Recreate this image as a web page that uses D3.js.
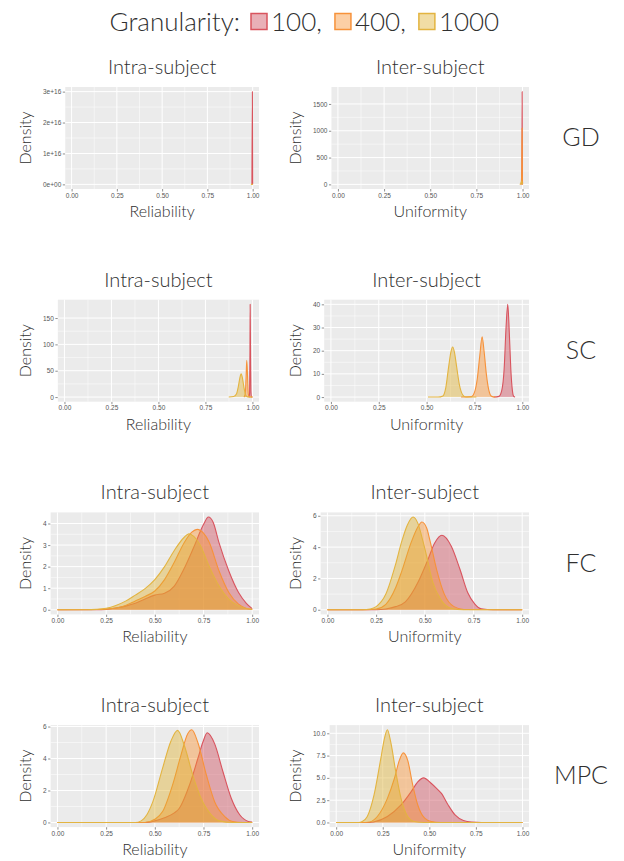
<!DOCTYPE html>
<html>
<head>
<meta charset="utf-8">
<script src="https://cdn.jsdelivr.net/npm/d3@7"></script>
<style>
  body { margin: 0; background: #fff; }
  svg { display: block; }
  .big { font-family: Lato, 'Open Sans', sans-serif; font-weight: 300; fill: #303030; }
  .tick text { font-family: 'Liberation Sans', Arial, sans-serif; font-size: 6.5px; fill: #555; }
  .tick line { stroke: #444; stroke-width: 0.6; }
</style>
</head>
<body>
<svg class="chart"></svg>
<script>
var granularities = ['100', '400', '1000'];
var modalities = ['GD', 'SC', 'FC', 'MPC'];
var measureTitles = ['Intra-subject', 'Inter-subject'];
var measureAxisLabels = ['Reliability', 'Uniformity'];
var xTicks = [0, 0.25, 0.5, 0.75, 1];
var xTickLabels = ['0.00', '0.25', '0.50', '0.75', '1.00'];

// y ticks, one pair of arrays per panel
var gdIntraTicks = [0, 1e16, 2e16, 3e16];
var gdIntraTickLabels = ['0e+00', '1e+16', '2e+16', '3e+16'];
var gdInterTicks = [0, 500, 1000, 1500];
var gdInterTickLabels = ['0', '500', '1000', '1500'];
var scIntraTicks = [0, 50, 100, 150];
var scIntraTickLabels = ['0', '50', '100', '150'];
var scInterTicks = [0, 10, 20, 30, 40];
var scInterTickLabels = ['0', '10', '20', '30', '40'];
var fcIntraTicks = [0, 1, 2, 3, 4];
var fcIntraTickLabels = ['0', '1', '2', '3', '4'];
var fcInterTicks = [0, 2, 4, 6];
var fcInterTickLabels = ['0', '2', '4', '6'];
var mpcIntraTicks = [0, 2, 4, 6];
var mpcIntraTickLabels = ['0', '2', '4', '6'];
var mpcInterTicks = [0, 2.5, 5, 7.5, 10];
var mpcInterTickLabels = ['0.0', '2.5', '5.0', '7.5', '10.0'];

// density curves [value, density]
var gdIntra100 = [[0.996, 0], [0.9985, 3.0e16], [1.0, 0]];
var gdIntra400 = [[0.994, 0], [0.998, 1200], [1.0, 0]];
var gdIntra1000 = [[0.99, 0], [0.996, 60], [1.0, 0]];

var gdInter100 = [[0.994, 0], [0.997, 400], [0.998, 1730], [0.999, 300], [1.0, 0]];
var gdInter400 = [[0.993, 0], [0.996, 300], [0.9975, 1050], [0.999, 200], [1.0, 0]];
var gdInter1000 = [[0.985, 0], [0.99, 10], [0.995, 60], [0.999, 20], [1.0, 0]];

var scIntra100 = [[0.982, 0], [0.985, 8], [0.987, 90], [0.988, 176], [0.990, 80], [0.992, 12], [0.995, 0], [1.0, 0]];
var scIntra400 = [[0.955, 0], [0.962, 6], [0.966, 35], [0.970, 70], [0.974, 40], [0.978, 6], [0.983, 0], [1.0, 0]];
var scIntra1000 = [[0.874, 0], [0.9, 1], [0.915, 6], [0.925, 20], [0.933, 36], [0.94, 44], [0.947, 36],
  [0.955, 18], [0.962, 6], [0.97, 1], [0.98, 0], [1.0, 0]];

var scInter100 = [[0.85, 0], [0.878, 0.3], [0.893, 3], [0.905, 12], [0.915, 30], [0.924, 40], [0.932, 28],
  [0.94, 12], [0.948, 3], [0.955, 0.3], [0.962, 0]];
var scInter400 = [[0.68, 0], [0.735, 0.2], [0.75, 2], [0.765, 8], [0.778, 18], [0.79, 26], [0.8, 20],
  [0.812, 10], [0.825, 3], [0.84, 0.3], [0.86, 0]];
var scInter1000 = [[0.507, 0], [0.56, 0], [0.585, 0.5], [0.6, 4], [0.615, 13], [0.627, 19.5], [0.636, 21.6],
  [0.645, 19.5], [0.657, 13], [0.672, 5], [0.688, 1], [0.705, 0], [0.76, 0]];

var fcIntra100 = [[0, 0], [0.2, 0], [0.25, 0.02], [0.3, 0.08], [0.35, 0.17], [0.4, 0.3], [0.45, 0.5],
  [0.5, 0.68], [0.55, 0.77], [0.6, 1.1], [0.65, 1.9], [0.7, 2.9], [0.75, 3.95], [0.775, 4.3], [0.8, 4.05],
  [0.83, 3.1], [0.88, 1.8], [0.93, 0.8], [0.97, 0.3], [1.0, 0.05]];
var fcIntra400 = [[0, 0], [0.2, 0.01], [0.25, 0.03], [0.3, 0.08], [0.35, 0.2], [0.4, 0.41], [0.45, 0.62],
  [0.5, 0.87], [0.55, 1.4], [0.6, 2.2], [0.65, 3.1], [0.69, 3.6], [0.718, 3.73], [0.75, 3.55], [0.778, 3.15],
  [0.83, 1.8], [0.88, 0.8], [0.93, 0.26], [0.97, 0.06], [1.0, 0.01]];
var fcIntra1000 = [[0, 0], [0.15, 0], [0.2, 0.02], [0.25, 0.07], [0.3, 0.2], [0.35, 0.4], [0.4, 0.68],
  [0.45, 0.98], [0.5, 1.4], [0.55, 2.0], [0.6, 2.75], [0.65, 3.35], [0.675, 3.52], [0.7, 3.4], [0.73, 3.05],
  [0.78, 2.0], [0.83, 1.1], [0.88, 0.49], [0.93, 0.18], [1.0, 0.02]];

var fcInter100 = [[0, 0], [0.25, 0], [0.3, 0.05], [0.35, 0.2], [0.4, 0.5], [0.465, 1.75], [0.516, 3.2],
  [0.55, 4.25], [0.588, 4.76], [0.636, 4.06], [0.68, 2.6], [0.72, 1.1], [0.756, 0.38], [0.79, 0.06],
  [0.85, 0], [1.0, 0]];
var fcInter400 = [[0, 0], [0.2, 0], [0.25, 0.05], [0.3, 0.35], [0.35, 1.4], [0.38, 2.4], [0.43, 4.3],
  [0.465, 5.3], [0.485, 5.6], [0.51, 5.2], [0.525, 4.5], [0.56, 2.6], [0.6, 1.0], [0.65, 0.2], [0.7, 0.02],
  [1.0, 0]];
var fcInter1000 = [[0, 0], [0.18, 0], [0.22, 0.05], [0.25, 0.2], [0.3, 1.0], [0.35, 2.9], [0.38, 4.3],
  [0.41, 5.4], [0.44, 5.92], [0.465, 5.5], [0.49, 4.4], [0.51, 3.4], [0.54, 1.8], [0.585, 0.6],
  [0.635, 0.1], [0.7, 0], [1.0, 0]];

var mpcIntra100 = [[0, 0], [0.45, 0], [0.5, 0.1], [0.55, 0.3], [0.6, 0.6], [0.626, 0.89], [0.678, 2.34],
  [0.721, 4.0], [0.747, 5.03], [0.769, 5.61], [0.807, 4.93], [0.85, 3.17], [0.893, 1.5], [0.936, 0.48],
  [0.98, 0.06], [1.0, 0.02]];
var mpcIntra400 = [[0, 0], [0.45, 0], [0.5, 0.2], [0.54, 0.68], [0.591, 2.34], [0.634, 4.2], [0.669, 5.55],
  [0.69, 5.8], [0.721, 5.0], [0.764, 3.0], [0.807, 1.3], [0.859, 0.37], [0.9, 0.06], [0.95, 0], [1.0, 0]];
var mpcIntra1000 = [[0, 0], [0.4, 0], [0.43, 0.1], [0.46, 0.5], [0.49, 1.3], [0.54, 3.4], [0.583, 5.1],
  [0.617, 5.76], [0.652, 4.8], [0.695, 2.96], [0.738, 1.5], [0.79, 0.48], [0.833, 0.1], [0.9, 0], [1.0, 0]];

var mpcInter100 = [[0, 0], [0.18, 0], [0.2, 0.05], [0.275, 0.67], [0.348, 1.96], [0.402, 3.44],
  [0.438, 4.55], [0.469, 5.0], [0.511, 4.37], [0.54, 3.8], [0.565, 3.26], [0.601, 1.96], [0.638, 0.85],
  [0.683, 0.22], [0.728, 0.04], [0.78, 0], [1.0, 0]];
var mpcInter400 = [[0, 0], [0.16, 0], [0.18, 0.05], [0.221, 0.67], [0.275, 2.7], [0.312, 4.9],
  [0.339, 6.96], [0.36, 7.8], [0.384, 6.96], [0.411, 4.2], [0.438, 1.96], [0.475, 0.48], [0.511, 0.1],
  [0.56, 0], [1.0, 0]];
var mpcInter1000 = [[0, 0], [0.12, 0], [0.14, 0.1], [0.167, 0.67], [0.203, 3.07], [0.239, 7.1],
  [0.261, 9.6], [0.275, 10.4], [0.293, 9.0], [0.32, 5.67], [0.348, 2.7], [0.384, 0.67], [0.42, 0.1],
  [0.47, 0], [1.0, 0]];

var strokeColors = {'100': '#d9545e', '400': '#f7923a', '1000': '#e3b440'};
var fillColors = {'100': '#cd4858', '400': '#f7902f', '1000': '#deb12f'};
var fillOpacity = 0.43;

var panels = [
  {row: 0, col: 0, curves: [gdIntra100, gdIntra400, gdIntra1000], ticks: gdIntraTicks, labels: gdIntraTickLabels},
  {row: 0, col: 1, curves: [gdInter100, gdInter400, gdInter1000], ticks: gdInterTicks, labels: gdInterTickLabels},
  {row: 1, col: 0, curves: [scIntra100, scIntra400, scIntra1000], ticks: scIntraTicks, labels: scIntraTickLabels},
  {row: 1, col: 1, curves: [scInter100, scInter400, scInter1000], ticks: scInterTicks, labels: scInterTickLabels},
  {row: 2, col: 0, curves: [fcIntra100, fcIntra400, fcIntra1000], ticks: fcIntraTicks, labels: fcIntraTickLabels},
  {row: 2, col: 1, curves: [fcInter100, fcInter400, fcInter1000], ticks: fcInterTicks, labels: fcInterTickLabels},
  {row: 3, col: 0, curves: [mpcIntra100, mpcIntra400, mpcIntra1000], ticks: mpcIntraTicks, labels: mpcIntraTickLabels},
  {row: 3, col: 1, curves: [mpcInter100, mpcInter400, mpcInter1000], ticks: mpcInterTicks, labels: mpcInterTickLabels},
];

var chartWidth = 624;
var chartHeight = 861;
var rowTop = 87;
var rowStep = 212.7;
var panelHeight = 102;
var colDensityX = [27, 297];
var colRight = [259, 529];
var xExpand = 0.035;

var chart = d3.select('.chart').attr('width', chartWidth).attr('height', chartHeight);

// Legend on top.
var legend = chart.append('g').attr('class', 'legend');
var legendEnd = 240;
legend.append('text')
    .attr('class', 'big')
    .attr('x', legendEnd)
    .attr('y', 31)
    .attr('text-anchor', 'end')
    .style('font-size', '26px')
    .text('Granularity:');
var cursor = legendEnd + 11;
granularities.forEach(function(gr, i) {
  legend.append('rect')
      .attr('x', cursor).attr('y', 13.5)
      .attr('width', 16).attr('height', 16)
      .style('fill', fillColors[gr]).style('fill-opacity', fillOpacity)
      .style('stroke', strokeColors[gr]).style('stroke-width', 1.5);
  cursor += 20;
  var t = legend.append('text')
      .attr('class', 'big')
      .attr('x', cursor)
      .attr('y', 31)
      .style('font-size', '26px')
      .text(gr + (i < granularities.length - 1 ? ',' : ''));
  cursor += t.node().getComputedTextLength() + 13;
});

function drawPanel(p) {
  var g = chart.append('g').attr('class', 'panel');
  var top = rowTop + p.row * rowStep;
  var bottom = top + panelHeight;
  var densityX = colDensityX[p.col];
  var right = colRight[p.col];

  var yMax = d3.max(p.curves, c => d3.max(c, d => d[1]));
  var y = d3.scaleLinear().domain([-0.05 * yMax, 1.05 * yMax]).range([bottom, top]);

  var yAxis = d3.axisLeft(y)
      .tickValues(p.ticks)
      .tickFormat((d, i) => p.labels[i])
      .tickSize(2.5)
      .tickPadding(1.5);
  var yAxisG = g.append('g').attr('class', 'axis').call(yAxis);
  yAxisG.select('.domain').remove();
  var labelWidth = d3.max(yAxisG.selectAll('text').nodes(), n => n.getComputedTextLength());
  var left = densityX + 20 + labelWidth;
  yAxisG.attr('transform', 'translate(' + left + ',0)');

  var x = d3.scaleLinear().domain([-xExpand, 1 + xExpand]).range([left, right]);

  var xAxis = d3.axisBottom(x)
      .tickValues(xTicks)
      .tickFormat((d, i) => xTickLabels[i])
      .tickSize(2.5)
      .tickPadding(1.5);
  var xAxisG = g.append('g').attr('class', 'axis')
      .attr('transform', 'translate(0,' + bottom + ')')
      .call(xAxis);
  xAxisG.select('.domain').remove();

  var body = g.append('g');
  body.append('rect')
      .attr('x', left).attr('y', top)
      .attr('width', right - left).attr('height', bottom - top)
      .style('fill', '#ebebeb');

  // Minor grid lines half way between the major ones.
  var xMinor = d3.pairs(xTicks).map(pr => (pr[0] + pr[1]) / 2);
  var yMinor = d3.pairs(p.ticks).map(pr => (pr[0] + pr[1]) / 2);
  body.selectAll('line.xminor').data(xMinor).join('line')
      .attr('x1', d => x(d)).attr('x2', d => x(d))
      .attr('y1', top).attr('y2', bottom)
      .style('stroke', '#fff').style('stroke-width', 0.5);
  body.selectAll('line.yminor').data(yMinor).join('line')
      .attr('x1', left).attr('x2', right)
      .attr('y1', d => y(d)).attr('y2', d => y(d))
      .style('stroke', '#fff').style('stroke-width', 0.5);
  body.selectAll('line.xmajor').data(xTicks).join('line')
      .attr('x1', d => x(d)).attr('x2', d => x(d))
      .attr('y1', top).attr('y2', bottom)
      .style('stroke', '#fff').style('stroke-width', 1);
  body.selectAll('line.ymajor').data(p.ticks).join('line')
      .attr('x1', left).attr('x2', right)
      .attr('y1', d => y(d)).attr('y2', d => y(d))
      .style('stroke', '#fff').style('stroke-width', 1);

  var area = d3.area()
      .x(d => x(d[0])).y0(y(0)).y1(d => y(d[1]))
      .curve(d3.curveMonotoneX);
  var line = d3.line()
      .x(d => x(d[0])).y(d => y(d[1]))
      .curve(d3.curveMonotoneX);

  // Groups drawn in order 100, 400, 1000: fill, then its outline.
  p.curves.forEach(function(c, i) {
    var gr = granularities[i];
    body.append('path').attr('d', area(c))
        .style('fill', fillColors[gr]).style('fill-opacity', fillOpacity);
    body.append('path').attr('d', line(c))
        .style('fill', 'none').style('stroke', strokeColors[gr])
        .style('stroke-width', 1.1).style('stroke-linejoin', 'round');
  });

  // Titles.
  var cx = (left + right) / 2;
  g.append('text').attr('class', 'big')
      .attr('x', cx).attr('y', top - 18)
      .attr('text-anchor', 'middle').attr('dominant-baseline', 'middle')
      .style('font-size', '20px')
      .text(measureTitles[p.col]);
  g.append('text').attr('class', 'big')
      .attr('x', cx).attr('y', bottom + 24)
      .attr('text-anchor', 'middle').attr('dominant-baseline', 'middle')
      .style('font-size', '16px')
      .text(measureAxisLabels[p.col]);
  g.append('text').attr('class', 'big')
      .attr('transform', 'translate(' + densityX + ',' + ((top + bottom) / 2) + ') rotate(-90)')
      .attr('text-anchor', 'middle').attr('dominant-baseline', 'middle')
      .style('font-size', '16px')
      .text('Density');

  if (p.col === 1) {
    g.append('text').attr('class', 'big')
        .attr('x', 581).attr('y', (top + bottom) / 2 + 2)
        .attr('text-anchor', 'middle').attr('dominant-baseline', 'middle')
        .style('font-size', '25px')
        .text(modalities[p.row]);
  }
}

panels.forEach(drawPanel);
</script>
</body>
</html>
